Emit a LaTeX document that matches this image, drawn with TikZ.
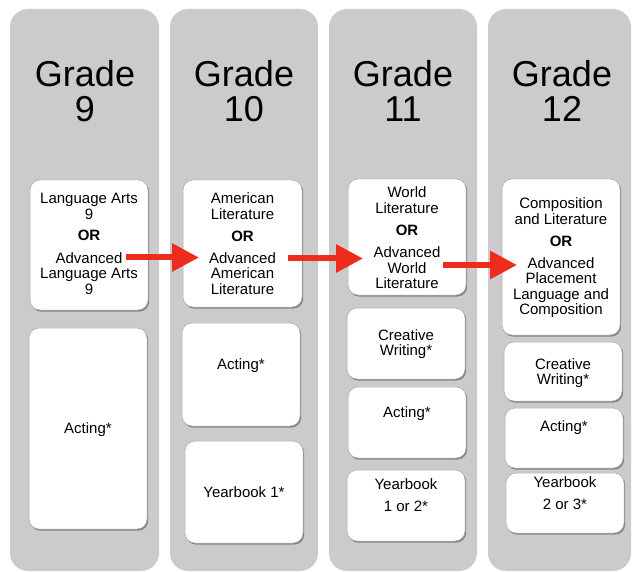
\documentclass[tikz,border=0pt]{standalone}
\usepackage{fontspec}
\setmainfont{Liberation Sans}
\usetikzlibrary{arrows.meta,shadows}
\definecolor{colgray}{RGB}{203,203,203}
\definecolor{arrred}{RGB}{238,44,30}
\definecolor{boxline}{RGB}{170,170,170}
\newcommand\cbox[5]{\node[cbox, minimum width=#4pt, minimum height=#5pt] (#1) at (#2,#3) {};}
\newcommand\ccol[3]{\node[gcol, minimum width=#3pt] (#1) at (#2,9) {};}
\begin{document}
\begin{tikzpicture}[x=1pt,y=-1pt,
  gcol/.style={fill=colgray, rounded corners=18pt, anchor=north west, inner sep=0, outer sep=0, minimum height=562pt},
  cbox/.style={fill=white, draw=boxline, line width=0.5pt, rounded corners=10pt, anchor=north west, inner sep=0, outer sep=0,
    drop shadow={shadow xshift=1.2pt, shadow yshift=-1.6pt, fill=black, opacity=0.35}},
  grade/.style={font=\fontsize{36}{36}\selectfont, anchor=base, inner sep=0},
  txt/.style={font=\fontsize{15}{15.5}\selectfont, anchor=base, inner sep=0},
  redarrow/.style={draw=arrred, line width=6pt, -{Triangle[length=27pt,width=27pt]}, arrred}
]
\useasboundingbox (0,0) rectangle (632,572);
% columns
\ccol{c1}{10}{149}
\ccol{c2}{170}{148}
\ccol{c3}{329}{148}
\ccol{c4}{488}{143}
% headings
\node[grade] (g1) at (85,87) {Grade};
\node[grade] (n1) at (85,122) {9};
\node[grade] (g2) at (244,87) {Grade};
\node[grade] (n2) at (244,122) {10};
\node[grade] (g3) at (403,87) {Grade};
\node[grade] (n3) at (403,122) {11};
\node[grade] (g4) at (562,87) {Grade};
\node[grade] (n4) at (562,122) {12};
% boxes
\cbox{b11}{30}{180}{118}{130}
\cbox{b12}{29}{328}{118}{201}
\cbox{b21}{183}{180}{119}{127}
\cbox{b22}{182}{323}{118}{103}
\cbox{b23}{185}{441}{118}{102}
\cbox{b31}{348}{179}{118}{116}
\cbox{b32}{347}{308}{118}{71}
\cbox{b33}{348}{387}{118}{71}
\cbox{b34}{347}{470}{118}{71}
\cbox{b41}{502}{179}{118}{156}
\cbox{b42}{504}{342}{118}{59}
\cbox{b43}{505}{408}{118}{60}
\cbox{b44}{506}{473}{118}{60}
% texts
\node[txt] (t11) at (89,204) {\begin{tabular}[t]{@{}c@{}}Language Arts\\9\\[6pt]\textbf{OR}\\[6.5pt]Advanced\\Language Arts\\9\end{tabular}};
\node[txt] (t12) at (88,433) {Acting*};
\node[txt] (t21) at (242.5,204) {\begin{tabular}[t]{@{}c@{}}American\\Literature\\[6pt]\textbf{OR}\\[6.5pt]Advanced\\American\\Literature\end{tabular}};
\node[txt] (t22) at (241,369) {Acting*};
\node[txt] (t23) at (244,497) {Yearbook 1*};
\node[txt] (t31) at (407,198) {\begin{tabular}[t]{@{}c@{}}World\\Literature\\[6.5pt]\textbf{OR}\\[6.5pt]Advanced\\World\\Literature\end{tabular}};
\node[txt] (t32) at (406,340) {\begin{tabular}[t]{@{}c@{}}Creative\\Writing*\end{tabular}};
\node[txt] (t33) at (407,417) {Acting*};
\node[txt] (t34) at (406,489) {\begin{tabular}[t]{@{}c@{}}Yearbook\\[6.5pt]1 or 2*\end{tabular}};
\node[txt] (t41) at (561,209) {\begin{tabular}[t]{@{}c@{}}Composition\\and Literature\\[6pt]\textbf{OR}\\[6.5pt]Advanced\\Placement\\Language and\\Composition\end{tabular}};
\node[txt] (t42) at (563,369) {\begin{tabular}[t]{@{}c@{}}Creative\\Writing*\end{tabular}};
\node[txt] (t43) at (564,431) {Acting*};
\node[txt] (t44) at (565,487) {\begin{tabular}[t]{@{}c@{}}Yearbook\\[6.5pt]2 or 3*\end{tabular}};
% arrows
\coordinate (a1s) at (126,257.5);
\coordinate (a1e) at (199,257.5);
\coordinate (a2s) at (288,258.5);
\coordinate (a2e) at (363,258.5);
\coordinate (a3s) at (443,265);
\coordinate (a3e) at (517,265);
\draw[redarrow] (a1s) -- (a1e);
\draw[redarrow] (a2s) -- (a2e);
\draw[redarrow] (a3s) -- (a3e);
\end{tikzpicture}
\end{document}
